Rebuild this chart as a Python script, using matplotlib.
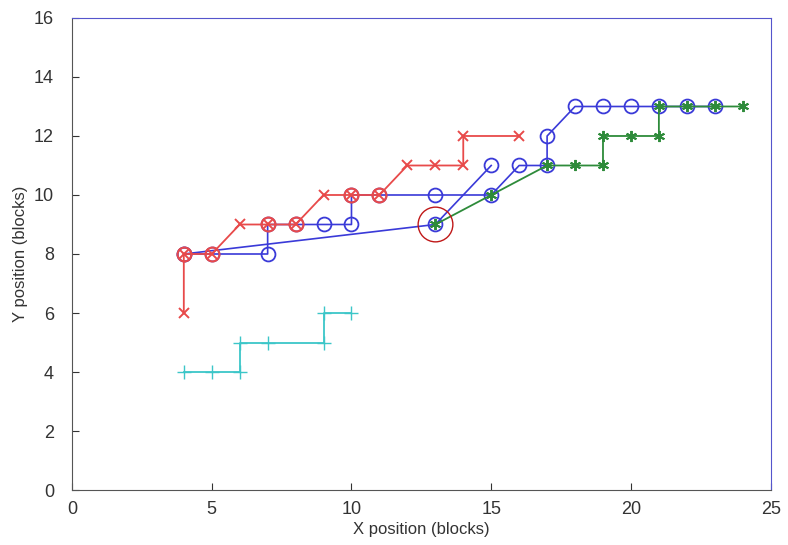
import matplotlib
matplotlib.use('Agg')
import matplotlib.pyplot as plt

plt.rcParams['font.family'] = ['Liberation Sans', 'DejaVu Sans']

# red path (x markers) and red circled points
red_x = [4, 4, 5, 6, 7, 8, 9, 10, 11, 12, 13, 14, 14, 16]
red_y = [6, 8, 8, 9, 9, 9, 10, 10, 10, 11, 11, 11, 12, 12]
red_circ_x = [4, 5, 7, 8, 10, 11]
red_circ_y = [8, 8, 9, 9, 10, 10]

# blue paths (circle markers)
blue_a_x = [4, 5, 7, 7, 8, 9, 10, 10, 11, 13, 15, 16, 17, 17, 18, 19, 20, 21, 22, 23]
blue_a_y = [8, 8, 8, 9, 9, 9, 9, 10, 10, 10, 10, 11, 11, 12, 13, 13, 13, 13, 13, 13]
blue_b_x = [4, 13, 15]
blue_b_y = [8, 9, 11]

# green path (asterisk markers)
green_x = [13, 15, 17, 18, 19, 19, 20, 21, 21, 22, 23, 24]
green_y = [9, 10, 11, 11, 11, 12, 12, 12, 13, 13, 13, 13]

# cyan path (plus markers)
cyan_x = [4, 5, 6, 6, 7, 9, 9, 10]
cyan_y = [4, 4, 4, 5, 5, 5, 6, 6]

# highlighted point
mark_x = [13]
mark_y = [9]

fig = plt.figure(figsize=(7.88, 5.45), dpi=100)
ax = fig.add_axes([0.0914, 0.1009, 0.8866, 0.8661])

red = '#e84a4a'
blue = '#3a3ad8'
green = '#2e8b3a'
cyan = '#3cc6c8'

ax.plot(cyan_x, cyan_y, '-+', color=cyan, markersize=10, lw=1.3)
ax.plot(blue_b_x, blue_b_y, '-o', color=blue, markersize=10, mfc='none', lw=1.2, mew=1.3)
ax.plot(blue_a_x, blue_a_y, '-o', color=blue, markersize=10, mfc='none', lw=1.2, mew=1.3)
ax.plot(red_x, red_y, '-x', color=red, markersize=7, lw=1.3, mew=1.4)
ax.plot(red_circ_x, red_circ_y, 'o', color=red, markersize=10, mfc='none', mew=1.5)
ax.plot(green_x, green_y, '-', color=green, lw=1.3, marker=(6, 2, 0), markersize=8, mew=1.4)
ax.plot(mark_x, mark_y, 'o', color='#c01818', markersize=25, mfc='none', mew=1.0)

ax.set_xlim(0, 25)
ax.set_ylim(0, 16)
ax.set_xticks([0, 5, 10, 15, 20, 25])
ax.set_yticks(range(0, 17, 2))
ax.tick_params(direction='in', labelsize=13, colors='#333333', length=5)
ax.tick_params(axis='x', pad=8)
ax.tick_params(axis='y', pad=13)
ax.set_xlabel('X position (blocks)', fontsize=12, color='#333333', labelpad=3)
ax.set_ylabel('Y position (blocks)', fontsize=12, color='#333333', labelpad=4)

for s in ['left', 'bottom']:
    ax.spines[s].set_color('#555555')
for s in ['top', 'right']:
    ax.spines[s].set_color('#5555cc')

fig.savefig('out.png', dpi=100)
